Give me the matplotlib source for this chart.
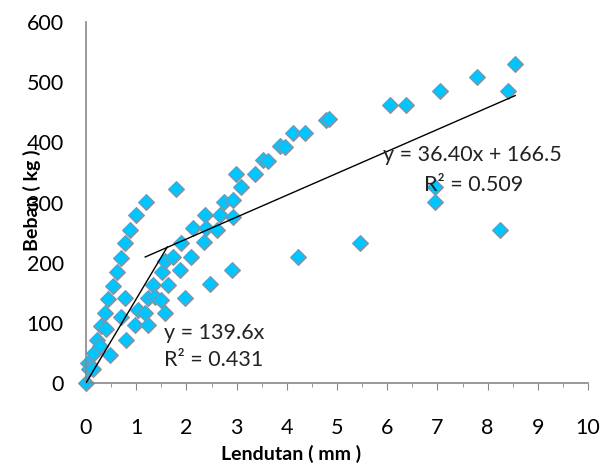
import numpy as np
import matplotlib.pyplot as plt
from matplotlib.ticker import MultipleLocator

# data (lendutan in mm, beban in kg)
lendutan = [0, 0.04, 0.05, 0.14, 0.16, 0.21, 0.30, 0.38, 0.44, 0.53, 0.61, 0.69,
            0.78, 0.87, 1.00, 1.19,
            0.47, 0.27, 0.40, 0.80, 0.70, 0.97, 1.24, 0.77, 1.04, 1.17, 1.33,
            1.24, 1.37, 1.50, 1.57, 1.51, 1.57, 1.64, 1.74, 1.87, 1.89, 1.97,
            2.09, 2.14, 2.36, 2.37, 2.40, 2.47, 2.60, 2.67, 2.74, 2.90, 2.93,
            2.93, 2.99, 3.09, 3.37, 3.53, 3.63, 3.86, 3.96, 4.12, 4.36, 4.79,
            4.84, 1.79,
            4.22, 5.46, 6.06, 6.37, 7.05, 7.78, 8.55, 8.41, 6.96, 6.96, 8.25]
beban = [0, 34, 24, 23, 50, 71, 94, 117, 139, 161, 185, 207,
         232, 255, 279, 301,
         47, 62, 90, 71, 110, 96, 96, 141, 121, 116, 163,
         141, 143, 138, 116, 185, 202, 163, 210, 188, 232, 141,
         210, 257, 234, 279, 257, 164, 254, 279, 301, 188, 276,
         304, 348, 325, 347, 370, 369, 394, 393, 416, 415, 437,
         438, 323,
         210, 232, 462, 462, 485, 508, 531, 486, 326, 300, 255]

# trendlines (coefficients from the chart labels)
slope1 = 139.6
range1 = [0, 1.62]
slope2, intercept2 = 36.40, 166.5
range2 = [1.18, 8.55]

plt.rcParams['font.family'] = ['Lato', 'DejaVu Sans']

fig = plt.figure(figsize=(6.11, 4.65), dpi=100)
ax = fig.add_axes([86 / 611, 82 / 465, 502 / 611, 361 / 465])

ax.plot(lendutan, beban, linestyle='none', marker='D', markersize=8.5,
        markerfacecolor='#00C6FF', markeredgecolor='#9a8a96', markeredgewidth=0.8,
        zorder=2, clip_on=False)

x1 = np.array(range1)
ax.plot(x1, slope1 * x1, color='black', linewidth=1, zorder=3)
x2 = np.array(range2)
ax.plot(x2, slope2 * x2 + intercept2, color='black', linewidth=1, zorder=3)

# trendline labels
ax.text(1.55, 83, 'y = 139.6x', fontsize=15.5, va='center', color='#222222')
ax.text(1.55, 38, 'R² = 0.431', fontsize=15.5, va='center', color='#222222')
ax.text(5.92, 379, 'y = 36.40x + 166.5', fontsize=15.5, va='center', color='#222222')
ax.text(6.73, 329, 'R² = 0.509', fontsize=15.5, va='center', color='#222222')

ax.set_xlim(0, 10)
ax.set_ylim(0, 600)
ax.xaxis.set_major_locator(MultipleLocator(1))
ax.xaxis.set_minor_locator(MultipleLocator(0.5))
ax.yaxis.set_major_locator(MultipleLocator(100))

for side in ['top', 'right']:
    ax.spines[side].set_visible(False)
for side in ['left', 'bottom']:
    ax.spines[side].set_color('#888888')
    ax.spines[side].set_linewidth(1.2)

ax.tick_params(axis='x', which='major', length=5, color='#888888', pad=20, labelsize=15.5)
ax.tick_params(axis='x', which='minor', length=3, color='#888888')
ax.tick_params(axis='y', length=0, pad=16, labelsize=15.5)

fig.text(291 / 611, 1 - 454 / 465, 'Lendutan ( mm )', fontsize=14, fontweight='bold',
         ha='center', va='center')
fig.text(32 / 611, 1 - 200 / 465, 'Beban ( kg )', fontsize=14, fontweight='bold',
         ha='center', va='center', rotation=90)

fig.savefig('out.png', dpi=100)
